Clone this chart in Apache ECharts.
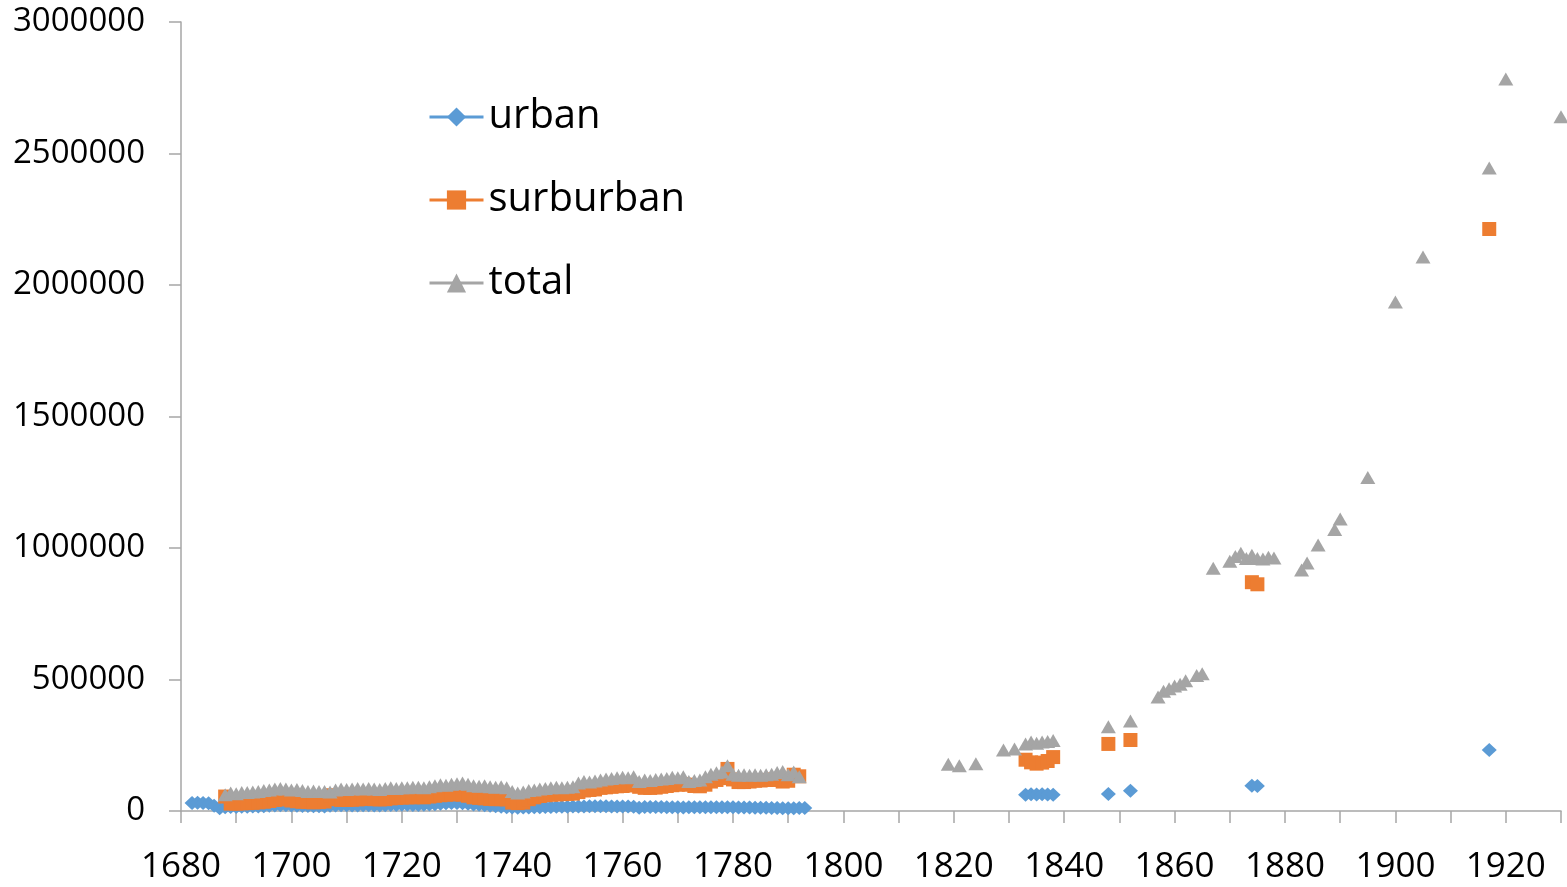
<!DOCTYPE html>
<html>
<head>
<meta charset="utf-8">
<script src="https://cdn.jsdelivr.net/npm/echarts@6/dist/echarts.min.js"></script>
<style>
html,body{margin:0;padding:0;background:#fff;}
#chart{width:1567px;height:887px;}
</style>
</head>
<body>
<div id="chart"></div>
<script>
// ---- data: [year, population] ----
const urbanEarly = [
[1682,30000],[1683,31000],[1684,30000],[1685,29000],[1686,20000],[1687,10000],
[1688,14000],[1689,15000],[1690,15000],[1691,16000],[1692,16000],[1693,17000],[1694,17000],[1695,18000],
[1696,20000],[1697,21000],[1698,22000],[1699,22000],[1700,21000],[1701,20000],[1702,19000],[1703,19000],[1704,18000],[1705,18000],
[1706,17000],[1707,20000],[1708,21000],[1709,22000],[1710,22000],[1711,21000],[1712,21000],[1713,22000],[1714,22000],[1715,21000],[1716,21000],[1717,22000],
[1718,23000],[1719,23000],[1720,24000],[1721,24000],[1722,23000],[1723,23000],[1724,24000],[1725,25000],[1726,26000],
[1727,28000],[1728,29000],[1729,30000],[1730,30000],[1731,29000],[1732,28000],
[1733,25000],[1734,24000],[1735,22000],[1736,20000],[1737,18000],[1738,16000],
[1739,14000],[1740,13000],[1741,12000],[1742,13000],[1743,13000],[1744,14000],[1745,14000],
[1746,15000],[1747,15000],[1748,16000],[1749,16000],[1750,16000],[1751,17000],[1752,17000],[1753,17000],[1754,18000],[1755,18000],[1756,18000],[1757,18000],[1758,17000],[1759,17000],[1760,17000],[1761,17000],[1762,16000],
[1763,12000],
[1764,15000],[1765,15000],[1766,15000],[1767,15000],[1768,14000],[1769,14000],[1770,14000],[1771,13000],[1772,14000],[1773,14000],[1774,14000],[1775,14000],
[1776,14000],[1777,14000],[1778,14000],[1779,14000],[1780,14000],[1781,13000],[1782,13000],[1783,13000],[1784,12000],[1785,12000],[1786,12000],[1787,11000],[1788,11000],[1789,10000],[1790,10000],[1791,10000],[1792,11000],[1793,11000]
];
const urbanLate = [
[1833,62000],[1834,64000],[1835,63000],[1836,64000],[1837,63000],[1838,62000],
[1848,65000],[1852,77000],[1874,96000],[1875,95000],[1917,232000]
];
const surburbanEarly = [
[1688,55000],[1689,28000],[1690,28000],[1691,29000],[1692,30000],[1693,31000],[1694,33000],[1695,35000],[1696,38000],[1697,42000],
[1698,46000],[1699,44000],[1700,40000],[1701,37000],[1702,35000],[1703,34000],[1704,33000],[1705,34000],[1706,36000],[1707,60000],
[1708,45000],[1709,42000],[1710,42000],[1711,43000],[1712,44000],[1713,46000],[1714,47000],[1715,45000],[1716,44000],[1717,45000],
[1718,48000],[1719,50000],[1720,51000],[1721,52000],[1722,52000],[1723,53000],[1724,52000],[1725,55000],[1726,58000],[1727,60000],
[1728,62000],[1729,63000],[1730,64000],[1731,62000],[1732,58000],[1733,52000],[1734,50000],[1735,48000],[1736,46000],[1737,45000],
[1738,45000],[1739,44000],[1740,32000],[1741,30000],[1742,32000],[1743,45000],[1744,52000],[1745,57000],[1746,60000],[1747,62000],
[1748,63000],[1749,64000],[1750,65000],[1751,66000],[1752,72000],[1753,78000],[1754,80000],[1755,82000],[1756,88000],[1757,90000],
[1758,92000],[1759,94000],[1760,95000],[1761,97000],[1762,100000],[1763,92000],[1764,88000],[1765,88000],[1766,89000],[1767,92000],
[1768,95000],[1769,98000],[1770,100000],[1771,102000],[1772,100000],[1773,95000],[1774,94000],[1775,100000],[1776,112000],[1777,118000],
[1778,125000],[1779,160000],[1780,120000],[1781,110000],[1782,110000],[1783,112000],[1784,115000],[1785,116000],[1786,118000],[1787,120000],
[1788,118000],[1789,112000],[1790,115000],[1791,138000],[1792,132000]
];
const surburbanLate = [
[1833,195000],[1834,185000],[1835,180000],[1836,184000],[1837,190000],[1838,205000],
[1848,255000],[1852,270000],[1874,870000],[1875,862000],[1917,2213000]
];
const totalEarly = [
[1688,62000],[1689,68000],[1690,66000],[1691,70000],[1692,70000],[1693,72000],[1694,74000],[1695,78000],[1696,80000],[1697,84000],
[1698,86000],[1699,84000],[1700,80000],[1701,82000],[1702,78000],[1703,74000],[1704,76000],[1705,74000],[1706,74000],[1707,72000],
[1708,80000],[1709,84000],[1710,82000],[1711,84000],[1712,86000],[1713,84000],[1714,86000],[1715,84000],[1716,82000],[1717,86000],
[1718,88000],[1719,86000],[1720,88000],[1721,88000],[1722,90000],[1723,90000],[1724,88000],[1725,92000],[1726,96000],[1727,100000],
[1728,98000],[1729,102000],[1730,104000],[1731,106000],[1732,102000],[1733,96000],[1734,94000],[1735,96000],[1736,92000],[1737,90000],
[1738,92000],[1739,88000],[1740,74000],[1741,68000],[1742,72000],[1743,78000],[1744,80000],[1745,84000],[1746,86000],[1747,88000],
[1748,90000],[1749,88000],[1750,90000],[1751,92000],[1752,106000],[1753,112000],[1754,110000],[1755,114000],[1756,118000],[1757,122000],
[1758,124000],[1759,126000],[1760,128000],[1761,126000],[1762,130000],[1763,112000],[1764,118000],[1765,116000],[1766,120000],[1767,122000],
[1768,124000],[1769,128000],[1770,126000],[1771,130000],[1772,112000],[1773,116000],[1774,118000],[1775,130000],[1776,140000],[1777,145000],
[1778,148000],[1779,172000],[1780,140000],[1781,136000],[1782,138000],[1783,136000],[1784,138000],[1785,136000],[1786,138000],[1787,140000],
[1788,146000],[1789,150000],[1790,138000],[1791,148000],[1792,130000]
];
const totalLate = [
[1819,178000],[1821,172000],[1824,180000],[1829,232000],[1831,236000],
[1833,255000],[1834,262000],[1835,258000],[1836,262000],[1837,264000],[1838,268000],
[1848,320000],[1852,342000],
[1857,433000],[1858,455000],[1859,465000],[1860,475000],[1861,482000],[1862,495000],[1864,515000],[1865,522000],
[1867,923000],[1870,950000],[1871,968000],[1872,980000],[1873,960000],[1874,972000],[1875,960000],[1876,958000],[1877,965000],[1878,962000],
[1883,916000],[1884,943000],[1886,1011000],[1889,1070000],[1890,1110000],[1895,1268000],
[1900,1935000],[1905,2106000],[1917,2445000],[1920,2783000],[1930,2640000]
];
const seriesNames = ['urban','surburban','total'];
const xTicks = {min:1680, max:1930, step:10};
const yTicks = {min:0, max:3000000, step:500000};

const colors = ['#5B9BD5','#ED7D31','#A5A5A5'];
const FONT = '"Open Sans", "Liberation Sans", sans-serif';

function mk(name, data, symbol, size, color){
  return {
    name: name, type: 'line', data: data,
    symbol: symbol, symbolSize: size, showSymbol: true, showAllSymbol: true,
    lineStyle: {width: 0, opacity: 0, color: color},
    itemStyle: {color: color},
    emphasis: {disabled: true},
    animation: false
  };
}

const chart = echarts.init(document.getElementById('chart'), null, {renderer: 'canvas'});
chart.setOption({
  backgroundColor: '#ffffff',
  animation: false,
  grid: {left: 181, right: 6, top: 22, bottom: 76, containLabel: false, outerBoundsMode: 'none'},
  legend: {
    orient: 'vertical', left: 428, top: 97, padding: 0,
    itemWidth: 54, itemHeight: 24, itemGap: 43,
    data: seriesNames,
    lineStyle: {width: 3, opacity: 1},
    textStyle: {fontSize: 40, fontFamily: FONT, color: '#000', lineHeight: 40}
  },
  xAxis: {
    type: 'value', min: xTicks.min, max: xTicks.max, interval: xTicks.step,
    splitLine: {show: false},
    axisLine: {lineStyle: {color: '#A6A6A6', width: 1.5}},
    axisTick: {length: 12, lineStyle: {color: '#A6A6A6', width: 1.5}},
    axisLabel: {
      fontSize: 35, fontFamily: FONT, color: '#000', margin: 36, lineHeight: 40,
      formatter: function(v){ return ((v - xTicks.min) % 20 === 0) ? String(v) : ''; }
    }
  },
  yAxis: {
    type: 'value', min: yTicks.min, max: yTicks.max, interval: yTicks.step,
    splitLine: {show: false},
    axisLine: {show: true, lineStyle: {color: '#A6A6A6', width: 1.5}},
    axisTick: {show: true, length: 12, lineStyle: {color: '#A6A6A6', width: 1.5}},
    axisLabel: {fontSize: 33, fontFamily: FONT, color: '#000', margin: 36,
      formatter: function(v){ return String(v); }}
  },
  series: [
    mk('urban', urbanEarly.concat(urbanLate), 'diamond', [15, 14], colors[0]),
    mk('surburban', surburbanEarly.concat(surburbanLate), 'rect', [14, 14], colors[1]),
    mk('total', totalEarly.concat(totalLate), 'triangle', [15, 13], colors[2])
  ]
});
</script>
</body>
</html>
